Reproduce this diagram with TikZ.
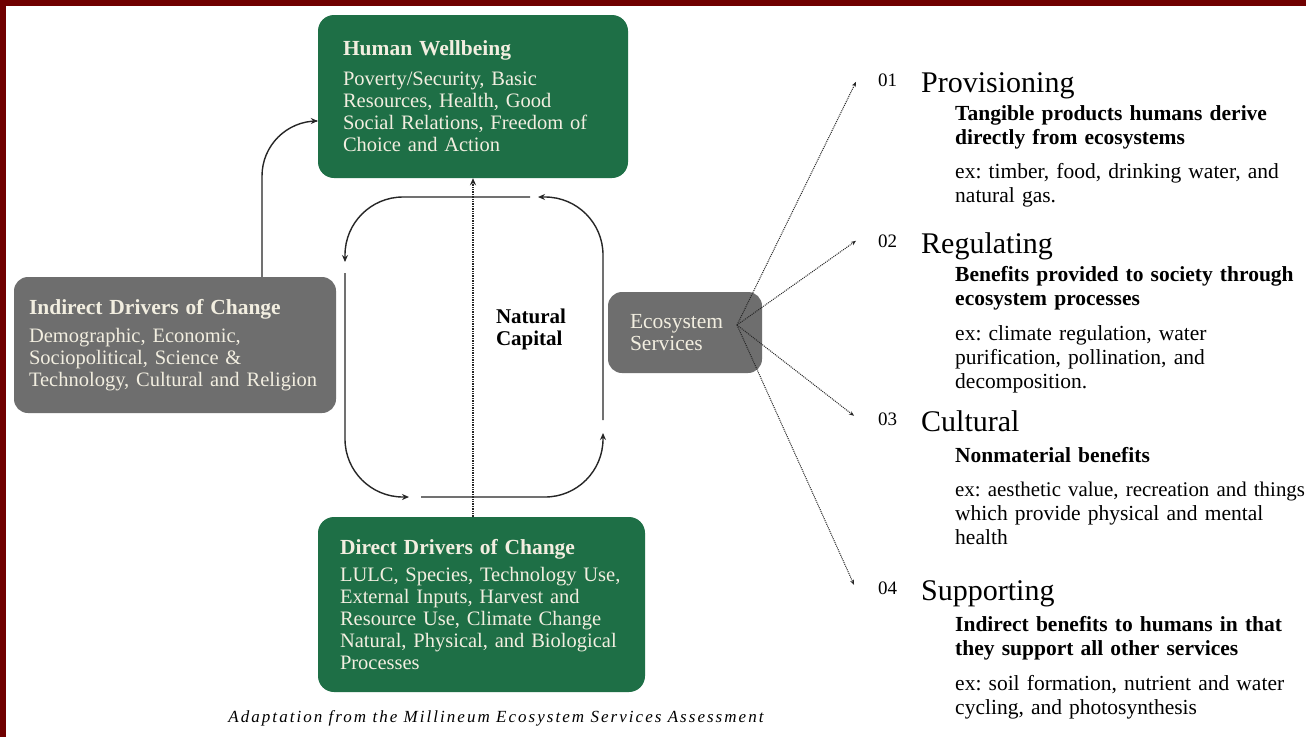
\documentclass[tikz,border=0pt]{standalone}
\usepackage{fontspec}
\setmainfont{Liberation Serif}
\usetikzlibrary{arrows.meta,positioning,calc}

\definecolor{framered}{RGB}{112,0,0}
\definecolor{boxgreen}{RGB}{30,111,70}
\definecolor{boxgrey}{RGB}{110,110,110}
\definecolor{boxtext}{RGB}{242,238,224}

\newcommand{\titlefont}{\fontsize{21.5}{24}\selectfont\bfseries}
\newcommand{\bodyfont}{\fontsize{20.5}{22}\selectfont}
\newcommand{\srvfont}{\fontsize{30}{32}\selectfont}
\newcommand{\exfont}{\fontsize{21.5}{24}\selectfont}
\newcommand{\capfont}{\fontsize{17}{20}\selectfont\itshape\addfontfeatures{LetterSpace=12}}
\frenchspacing

\tikzset{
  greenbox/.style={rounded corners=16pt, fill=boxgreen, text=boxtext, align=left, font=\bodyfont},
  greybox/.style={rounded corners=14pt, fill=boxgrey, text=boxtext, align=left, font=\bodyfont},
  flow/.style={draw=black!85, line width=1.4pt, -{Stealth[length=7pt,width=6pt]}},
  fan/.style={draw=black!85, densely dotted, line width=1pt, -{Stealth[length=5pt,width=4pt]}},
  numlbl/.style={anchor=base west, inner sep=0pt, font=\fontsize{19}{20}\selectfont},
  srvtitle/.style={anchor=base west, inner sep=0pt, font=\srvfont},
  srvtext/.style={anchor=base west, inner sep=0pt, align=left, text width=400pt, font=\exfont}
}

\begin{document}
\begin{tikzpicture}[x=1pt,y=-1pt]
  % page with the dark red edge
  \useasboundingbox (0,0) rectangle (1306,737);
  \fill[framered] (0,0) rectangle (1306,737);
  \fill[white] (6,6) rectangle (1306,737);

  % boxes
  \node[greenbox, minimum width=310pt, minimum height=163pt, text width=260pt, inner xsep=25pt] (hw) at (473,96.5)
    {{\titlefont Human Wellbeing}\\[8pt]
     Poverty/Security, Basic\\ Resources, Health, Good\\ Social Relations, Freedom of\\ Choice and Action};
  \node[greybox, minimum width=322pt, minimum height=136pt, text width=292pt, inner xsep=15pt] (ind) at (175,345)
    {{\titlefont Indirect Drivers of Change}\\[6pt]
     Demographic, Economic,\\ Sociopolitical, Science \&\\ Technology, Cultural and Religion};
  \node[greenbox, minimum width=327pt, minimum height=175pt, text width=283pt, inner xsep=22pt] (dd) at (481.5,604.5)
    {{\titlefont Direct Drivers of Change}\\[5pt]
     LULC, Species, Technology Use,\\ External Inputs, Harvest and\\ Resource Use, Climate Change\\ Natural, Physical, and Biological\\ Processes};
  \node[greybox, minimum width=154pt, minimum height=81pt, text width=110pt, inner xsep=22pt] (es) at (685,332.5)
    {\fontsize{21.5}{22}\selectfont Ecosystem\\ Services};
  \node[align=left, font=\fontsize{21}{22}\selectfont\bfseries] (nc) at (531,329) {Natural\\ Capital};

  % natural capital loop
  \coordinate (lt) at (345,197);
  \coordinate (lb) at (345,497);
  \coordinate (rb) at (603,497);
  \coordinate (rt) at (603,197);
  \draw[flow, rounded corners=58pt] ($(rt)+(-73,0)$) -- (lt) -- ($(lt)+(0,65)$);
  \draw[flow, rounded corners=58pt] ($(lt)+(0,76)$) -- (lb) -- ($(lb)+(64,0)$);
  \draw[flow, rounded corners=58pt] ($(lb)+(76,0)$) -- (rb) -- ($(rb)+(0,-64)$);
  \draw[flow, rounded corners=58pt] ($(rb)+(0,-77)$) -- (rt) -- ($(rt)+(-65,0)$);

  \draw[flow, rounded corners=55pt] ([xshift=87pt]ind.north) |- ([yshift=-24.5pt]hw.west);
  \draw[flow, densely dotted, line width=1.2pt] (dd.north -| hw.south) -- (hw.south);

  % services
  \node[numlbl] (n1) at (878,86) {01};
  \node[srvtitle] (s1) at (921,92) {Provisioning};
  \node[srvtext] (t1) at (955,120)
    {\textbf{Tangible products humans derive\\ directly from ecosystems}\\[10pt]
     ex: timber, food, drinking water, and\\ natural gas.};

  \node[numlbl] (n2) at (878,247) {02};
  \node[srvtitle] (s2) at (921,253) {Regulating};
  \node[srvtext] (t2) at (955,281)
    {\textbf{Benefits provided to society through\\ ecosystem processes}\\[11pt]
     ex: climate regulation, water\\ purification, pollination, and\\ decomposition.};

  \node[numlbl] (n3) at (878,425) {03};
  \node[srvtitle] (s3) at (921,431) {Cultural};
  \node[srvtext] (t3) at (955,462)
    {\textbf{Nonmaterial benefits}\\[10pt]
     {\fontsize{20.9}{24}\selectfont ex: aesthetic value, recreation and things}\\ which provide physical and mental\\ health};

  \node[numlbl] (n4) at (878,594) {04};
  \node[srvtitle] (s4) at (921,600) {Supporting};
  \node[srvtext] (t4) at (955,631)
    {\textbf{Indirect benefits to humans in that\\ they support all other services}\\[11pt]
     ex: soil formation, nutrient and water\\ cycling, and photosynthesis};

  \coordinate (fan) at (737,325);
  \draw[fan] (fan) -- ([shift={(-22,2)}]n1.west);
  \draw[fan] (fan) -- ([shift={(-22,0)}]n2.west);
  \draw[fan] (fan) -- ([shift={(-24,-3)}]n3.west);
  \draw[fan] (fan) -- ([shift={(-24,-3)}]n4.west);

  \node[font=\capfont] (cap) at (496,718) {Adaptation from the Millineum Ecosystem Services Assessment};
\end{tikzpicture}
\end{document}
